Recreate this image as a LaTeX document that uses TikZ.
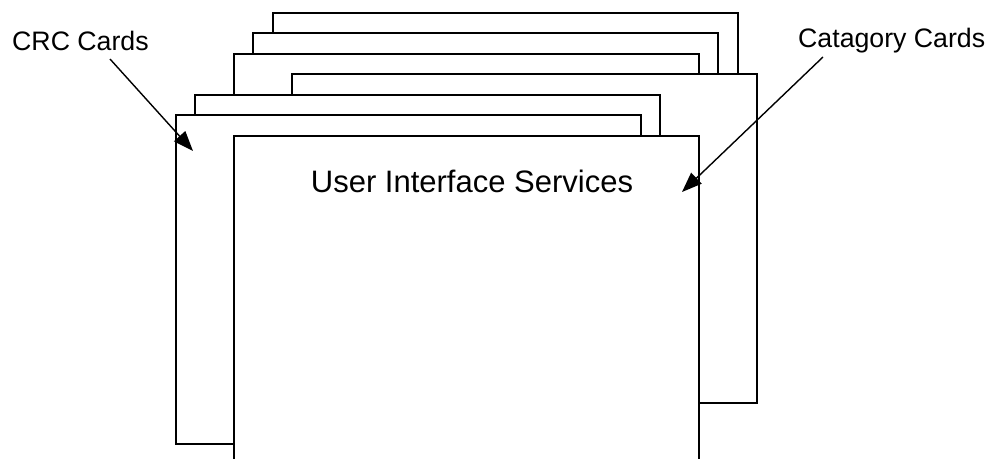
\documentclass[tikz,border=0pt]{standalone}
\usepackage{fontspec}
\setmainfont{Liberation Sans}
\usetikzlibrary{arrows.meta}
\begin{document}
\begin{tikzpicture}[x=1pt,y=-1pt,
  card/.style={draw=black, fill=white, line width=1.5pt, inner sep=0pt,
    minimum width=465pt, minimum height=329pt, anchor=north west},
  lbl/.style={inner sep=0pt, anchor=base west, font=\fontsize{26.7}{32}\selectfont},
  ptr/.style={line width=1.4pt, -{Triangle[length=20pt,width=15pt]}}]
\useasboundingbox (0,0) rectangle (993,458);
\clip (0,0) rectangle (993,458);
\node[card] (cardA) at (272,12) {};
\node[card] (cardB) at (252,32) {};
\node[card] (cardC) at (233,53) {};
\node[card] (cardD) at (291,73) {};
\node[card] (cardE) at (194,94) {};
\node[card] (cardF) at (175,114) {};
\node[card] (cardG) at (233,135) {};
\node[inner sep=0pt, anchor=base, font=\fontsize{31}{37}\selectfont] (title) at (472,192) {User Interface Services};
\node[lbl] (crc) at (12,50) {CRC Cards};
\node[lbl] (cat) at (798,47) {Catagory Cards};
\coordinate (crcfrom) at (110,59);
\coordinate (crcto) at (193,151);
\coordinate (catfrom) at (823,57);
\coordinate (catto) at (682,192);
\draw[ptr] (crcfrom) -- (crcto);
\draw[ptr] (catfrom) -- (catto);
\end{tikzpicture}
\end{document}
